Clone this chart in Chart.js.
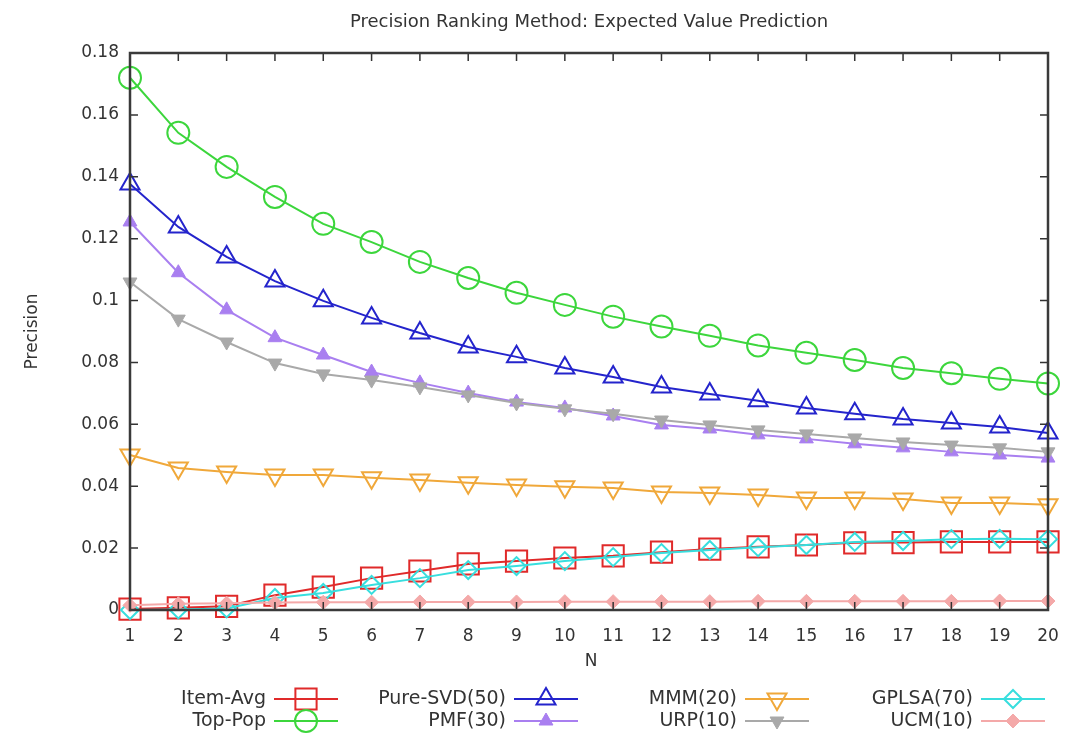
<!DOCTYPE html>
<html>
<head>
<meta charset="utf-8">
<title>Precision Ranking Method: Expected Value Prediction</title>
<script src="https://cdn.jsdelivr.net/npm/chart.js@4.4.1/dist/chart.umd.min.js"></script>
<style>
  html, body { margin: 0; padding: 0; background: #fff; }
  canvas { display: block; }
</style>
</head>
<body>
<canvas id="chart" width="1066" height="736"></canvas>
<script>
// Recommendation list length N
const listLengths = ['1','2','3','4','5','6','7','8','9','10','11','12','13','14','15','16','17','18','19','20'];

// Precision at N for each recommender
const itemAvg  = [0.0003, 0.0007, 0.0012, 0.0048, 0.0074, 0.0103, 0.0126, 0.0149, 0.0158, 0.0168, 0.0175, 0.0187, 0.0197, 0.0204, 0.0210, 0.0217, 0.0218, 0.0220, 0.0220, 0.0220];
const topPop   = [0.1720, 0.1542, 0.1432, 0.1335, 0.1248, 0.1189, 0.1125, 0.1073, 0.1025, 0.0986, 0.0948, 0.0916, 0.0886, 0.0855, 0.0831, 0.0808, 0.0782, 0.0765, 0.0747, 0.0732];
const pureSvd  = [0.1377, 0.1238, 0.1141, 0.1063, 0.0999, 0.0944, 0.0895, 0.0850, 0.0818, 0.0782, 0.0753, 0.0721, 0.0698, 0.0676, 0.0653, 0.0634, 0.0617, 0.0604, 0.0591, 0.0572];
const pmf      = [0.1254, 0.1090, 0.0970, 0.0880, 0.0824, 0.0769, 0.0734, 0.0701, 0.0672, 0.0653, 0.0627, 0.0598, 0.0585, 0.0566, 0.0553, 0.0537, 0.0524, 0.0511, 0.0501, 0.0491];
const mmm      = [0.0501, 0.0459, 0.0446, 0.0436, 0.0436, 0.0427, 0.0420, 0.0411, 0.0404, 0.0398, 0.0394, 0.0381, 0.0378, 0.0372, 0.0362, 0.0362, 0.0359, 0.0346, 0.0346, 0.0340];
const urp      = [0.1060, 0.0940, 0.0866, 0.0798, 0.0763, 0.0743, 0.0721, 0.0695, 0.0669, 0.0650, 0.0634, 0.0614, 0.0598, 0.0582, 0.0569, 0.0556, 0.0543, 0.0533, 0.0524, 0.0511];
const gplsa    = [0.0000, 0.0002, 0.0005, 0.0039, 0.0055, 0.0081, 0.0103, 0.0129, 0.0142, 0.0158, 0.0171, 0.0184, 0.0194, 0.0203, 0.0210, 0.0220, 0.0223, 0.0229, 0.0230, 0.0229];
const ucm      = [0.0015, 0.0020, 0.0022, 0.0024, 0.0025, 0.0025, 0.0026, 0.0026, 0.0026, 0.0027, 0.0027, 0.0027, 0.0027, 0.0028, 0.0028, 0.0028, 0.0028, 0.0028, 0.0029, 0.0029];

// Series names
const seriesNames = ['Item-Avg', 'Top-Pop', 'Pure-SVD(50)', 'PMF(30)', 'MMM(20)', 'URP(10)', 'GPLSA(70)', 'UCM(10)'];
const seriesData  = [itemAvg, topPop, pureSvd, pmf, mmm, urp, gplsa, ucm];

// Y axis range and tick step
const yMin = 0, yMax = 0.18, yStep = 0.02;

// Text
const chartTitle = 'Precision Ranking Method: Expected Value Prediction';
const xTitle = 'N';
const yTitle = 'Precision';

// Look of each series: colour, marker, marker size, filled or hollow, marker rotation
const looks = [
  { color: '#e02a2a', marker: 'rect',     radius: 15, filled: false, rotation: 0   },
  { color: '#3cd63c', marker: 'circle',   radius: 11, filled: false, rotation: 0   },
  { color: '#2424cc', marker: 'triangle', radius: 11, filled: false, rotation: 0   },
  { color: '#a97ff0', marker: 'triangle', radius: 8,  filled: true,  rotation: 0   },
  { color: '#f0a83a', marker: 'triangle', radius: 11, filled: false, rotation: 180 },
  { color: '#a9a9a9', marker: 'triangle', radius: 8,  filled: true,  rotation: 180 },
  { color: '#38dede', marker: 'rectRot',  radius: 9,  filled: false, rotation: 0   },
  { color: '#f4a9a9', marker: 'rectRot',  radius: 7,  filled: true,  rotation: 0   }
];

const FONT = '"DejaVu Sans", "Liberation Sans", sans-serif';
const INK = '#333333';
const CLEAR = 'rgba(0,0,0,0)';

const datasets = seriesNames.map((name, i) => {
  const lk = looks[i];
  return {
    label: name,
    data: seriesData[i],
    borderColor: lk.color,
    backgroundColor: lk.filled ? lk.color : CLEAR,
    borderWidth: 2,
    fill: false,
    tension: 0,
    pointStyle: lk.marker,
    pointRadius: lk.radius,
    pointHoverRadius: lk.radius,
    pointRotation: lk.rotation,
    pointBorderWidth: lk.filled ? 1 : 2,
    pointBorderColor: lk.color,
    pointBackgroundColor: lk.filled ? lk.color : CLEAR,
    clip: false,
    order: seriesNames.length - i   // later series are painted on top
  };
});

// White page background
const whiteBackground = {
  id: 'whiteBackground',
  beforeDraw(chart) {
    const ctx = chart.ctx;
    ctx.save();
    ctx.fillStyle = '#ffffff';
    ctx.fillRect(0, 0, chart.width, chart.height);
    ctx.restore();
  }
};

// Boxed plot frame with inward tick marks on all four sides, painted over the data
const boxFrame = {
  id: 'boxFrame',
  afterDatasetsDraw(chart) {
    const { ctx, chartArea: a, scales: { x, y } } = chart;
    const tick = 8;
    ctx.save();
    ctx.strokeStyle = INK;
    ctx.lineWidth = 1.5;
    ctx.beginPath();
    x.ticks.forEach((t, i) => {
      const px = x.getPixelForTick(i);
      ctx.moveTo(px, a.top);    ctx.lineTo(px, a.top + tick);
      ctx.moveTo(px, a.bottom); ctx.lineTo(px, a.bottom - tick);
    });
    y.ticks.forEach((t, i) => {
      const py = y.getPixelForTick(i);
      ctx.moveTo(a.left, py);  ctx.lineTo(a.left + tick, py);
      ctx.moveTo(a.right, py); ctx.lineTo(a.right - tick, py);
    });
    ctx.stroke();
    ctx.strokeStyle = '#3a3a3a';
    ctx.lineWidth = 2.5;
    ctx.strokeRect(a.left, a.top, a.right - a.left, a.bottom - a.top);
    ctx.restore();
  }
};

function drawMarker(ctx, lk, x, y) {
  const opts = { pointStyle: lk.marker, radius: lk.radius, rotation: lk.rotation, borderWidth: lk.filled ? 1 : 2 };
  ctx.lineWidth = opts.borderWidth;
  ctx.strokeStyle = lk.color;
  ctx.fillStyle = lk.filled ? lk.color : CLEAR;
  Chart.helpers.drawPoint(ctx, opts, x, y);
}

// Title, axis titles and the two-row key below the plot
const annotations = {
  id: 'annotations',
  afterDraw(chart) {
    const { ctx, chartArea: a } = chart;
    ctx.save();
    ctx.fillStyle = INK;
    ctx.textAlign = 'center';
    ctx.textBaseline = 'middle';

    ctx.font = '18px ' + FONT;
    ctx.fillText(chartTitle, (a.left + a.right) / 2, 22);

    ctx.font = '17px ' + FONT;
    ctx.fillText(xTitle, (a.left + a.right) / 2 + 2, 662);

    ctx.save();
    ctx.translate(33, (a.top + a.bottom) / 2);
    ctx.rotate(-Math.PI / 2);
    ctx.fillText(yTitle, 0, 0);
    ctx.restore();

    // key: four columns, two rows, text right-aligned before a line sample
    const colRight = [266, 506, 737, 973];
    const rowY = [699, 721];
    const sampleGap = 8, sampleLen = 64;
    ctx.font = '19px ' + FONT;
    chart.data.datasets.forEach((ds, i) => {
      const col = Math.floor(i / 2), row = i % 2;
      const tx = colRight[col], ty = rowY[row];
      ctx.fillStyle = INK;
      ctx.textAlign = 'right';
      ctx.fillText(ds.label, tx, ty);
      const sx = tx + sampleGap;
      ctx.strokeStyle = ds.borderColor;
      ctx.lineWidth = 2;
      ctx.beginPath();
      ctx.moveTo(sx, ty);
      ctx.lineTo(sx + sampleLen, ty);
      ctx.stroke();
      drawMarker(ctx, looks[i], sx + sampleLen / 2, ty);
    });
    ctx.restore();
  }
};

new Chart(document.getElementById('chart'), {
  type: 'line',
  data: { labels: listLengths, datasets },
  options: {
    responsive: false,
    animation: false,
    devicePixelRatio: 1,
    events: [],
    layout: { padding: { left: 0, right: 18, top: 53, bottom: 0 } },
    plugins: {
      legend: { display: false },
      title: { display: false },
      tooltip: { enabled: false }
    },
    scales: {
      x: {
        type: 'category',
        offset: false,
        grid: { display: false, drawTicks: false },
        border: { display: false },
        ticks: { autoSkip: false, maxRotation: 0, padding: 16, color: INK, font: { family: FONT, size: 17 } },
        afterFit(scale) {
          scale.height = 126;
          scale.paddingLeft = 0;
          scale.paddingRight = 0;
        }
      },
      y: {
        min: yMin,
        max: yMax,
        grid: { display: false, drawTicks: false },
        border: { display: false },
        ticks: {
          stepSize: yStep,
          padding: 11,
          color: INK,
          font: { family: FONT, size: 17 },
          callback: v => String(Number(v.toFixed(2)))
        },
        afterFit(scale) {
          scale.width = 130;
          scale.paddingTop = 0;
          scale.paddingBottom = 0;
        }
      }
    }
  },
  plugins: [whiteBackground, boxFrame, annotations]
});
</script>
</body>
</html>
